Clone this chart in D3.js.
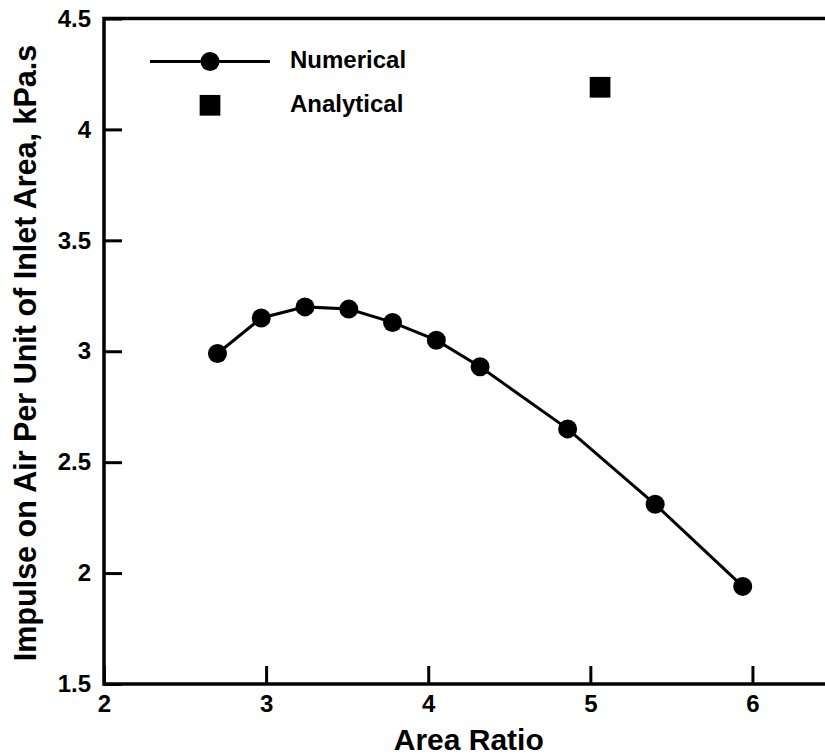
<!DOCTYPE html>
<html>
<head>
<meta charset="utf-8">
<script src="https://cdn.jsdelivr.net/npm/d3@7"></script>
<style>
  body { margin: 0; background: #fff; }
  svg { display: block; }
  text { font-family: "Liberation Sans", Arial, sans-serif; font-weight: bold; fill: #000; }
</style>
</head>
<body>
<script>
// data
const areaRatio = [2.70, 2.97, 3.24, 3.51, 3.78, 4.05, 4.32, 4.86, 5.40, 5.94];
const numericalImpulse = [2.99, 3.15, 3.20, 3.19, 3.13, 3.05, 2.93, 2.65, 2.31, 1.94];
const analyticalRatio = [5.06];
const analyticalImpulse = [4.19];
const xTicks = [2, 3, 4, 5, 6];
const yTicks = [1.5, 2, 2.5, 3, 3.5, 4, 4.5];
const legendLabels = ["Numerical", "Analytical"];

const width = 825, height = 756;
const plotL = 104, plotT = 18.5, plotB = 684, plotR = 833.5;

const x = d3.scaleLinear().domain([2, 6.5]).range([plotL, plotR]);
const y = d3.scaleLinear().domain([1.5, 4.5]).range([plotB, plotT]);

const svg = d3.select("body").append("svg")
  .attr("width", width)
  .attr("height", height);

// x axis, ticks pointing inward
const gx = svg.append("g")
  .attr("transform", `translate(0,${plotB})`)
  .call(d3.axisBottom(x).tickValues(xTicks).tickFormat(d3.format("d"))
    .tickSizeInner(-18).tickSizeOuter(0).tickPadding(0))
  .attr("font-family", null).attr("font-size", null);
gx.select(".domain").remove();
gx.selectAll(".tick line").attr("stroke", "#000").attr("stroke-width", 3);
gx.selectAll(".tick text")
  .attr("y", 28).attr("dy", 0)
  .attr("font-size", 24);

// y axis
const gy = svg.append("g")
  .attr("transform", `translate(${plotL},0)`)
  .call(d3.axisLeft(y).tickValues(yTicks).tickFormat(d3.format("~g"))
    .tickSizeInner(-18).tickSizeOuter(0).tickPadding(13))
  .attr("font-family", null).attr("font-size", null);
gy.select(".domain").remove();
gy.selectAll(".tick line").attr("stroke", "#000").attr("stroke-width", 3);
gy.selectAll(".tick text")
  .attr("font-size", 24);

// frame
svg.append("rect")
  .attr("x", plotL).attr("y", plotT)
  .attr("width", plotR - plotL).attr("height", plotB - plotT)
  .attr("fill", "none").attr("stroke", "#000").attr("stroke-width", 3.5);

// numerical series
const pts = areaRatio.map((d, i) => [d, numericalImpulse[i]]);
svg.append("path")
  .datum(pts)
  .attr("fill", "none")
  .attr("stroke", "#000")
  .attr("stroke-width", 3)
  .attr("d", d3.line().x(d => x(d[0])).y(d => y(d[1])));

svg.selectAll(".num-pt")
  .data(pts)
  .enter()
  .append("circle")
  .attr("class", "num-pt")
  .attr("cx", d => x(d[0]))
  .attr("cy", d => y(d[1]))
  .attr("r", 9.5)
  .attr("fill", "#000");

// analytical point
const sq = 20.7;
svg.selectAll(".ana-pt")
  .data(analyticalRatio.map((d, i) => [d, analyticalImpulse[i]]))
  .enter()
  .append("rect")
  .attr("class", "ana-pt")
  .attr("x", d => x(d[0]) - sq / 2)
  .attr("y", d => y(d[1]) - sq / 2)
  .attr("width", sq).attr("height", sq)
  .attr("fill", "#000");

// legend
const lg = svg.append("g");
lg.append("line")
  .attr("x1", 150).attr("x2", 270).attr("y1", 61.5).attr("y2", 61.5)
  .attr("stroke", "#000").attr("stroke-width", 3);
lg.append("circle").attr("cx", 210).attr("cy", 61.5).attr("r", 9.5).attr("fill", "#000");
lg.append("rect")
  .attr("x", 210 - sq / 2).attr("y", 105.3 - sq / 2)
  .attr("width", sq).attr("height", sq).attr("fill", "#000");
lg.selectAll("text")
  .data(legendLabels)
  .enter()
  .append("text")
  .attr("x", 290)
  .attr("y", (d, i) => 68 + i * 44)
  .attr("font-size", 24)
  .text(d => d);

// axis titles
svg.append("text")
  .attr("x", (plotL + plotR) / 2)
  .attr("y", 750)
  .attr("text-anchor", "middle")
  .attr("font-size", 30)
  .text("Area Ratio");

svg.append("text")
  .attr("transform", `translate(36,353) rotate(-90)`)
  .attr("text-anchor", "middle")
  .attr("font-size", 30.5)
  .text("Impulse on Air Per Unit of Inlet Area, kPa.s");
</script>
</body>
</html>
